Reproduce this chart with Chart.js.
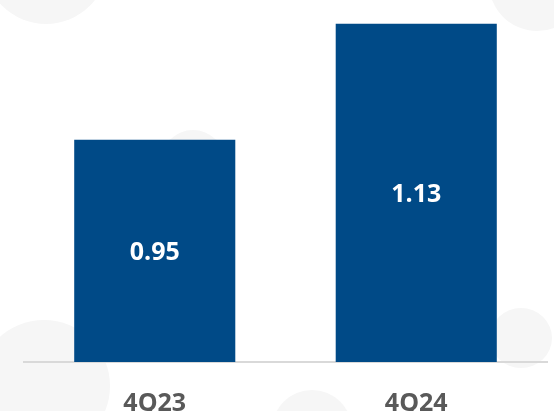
<!DOCTYPE html>
<html>
<head>
<meta charset="utf-8">
<script src="https://cdn.jsdelivr.net/npm/chart.js@4"></script>
<style>
  html, body { margin: 0; padding: 0; background: #fff; overflow: hidden; }
  #wrap { position: relative; width: 554px; height: 411px; overflow: hidden; }
  .dot { position: absolute; border-radius: 50%; background: #f6f6f6; }
  canvas { position: absolute; left: 0; top: 0; }
</style>
</head>
<body>
<div id="wrap">
  <!-- faint background circles -->
  <div class="dot" style="left:-16px;top:-100px;width:124px;height:124px"></div>
  <div class="dot" style="left:489px;top:-65px;width:96px;height:96px"></div>
  <div class="dot" style="left:161px;top:130px;width:64px;height:64px"></div>
  <div class="dot" style="left:-22px;top:320px;width:132px;height:132px"></div>
  <div class="dot" style="left:272px;top:390px;width:80px;height:80px"></div>
  <div class="dot" style="left:490px;top:308px;width:62px;height:60px"></div>
  <canvas id="myChart" width="554" height="411"></canvas>
</div>
<script>
const categories = ["4Q23", "4Q24"];
const values = [0.95, 1.13];
const valueLabels = ["0.95", "1.13"];

const barColor = "#004a87";

// 막대 가운데에 값 표시 (축이 0에서 시작하지 않으므로 차트 바닥 기준)
const centerLabels = {
  id: "centerLabels",
  afterDatasetsDraw(chart) {
    const c = chart.ctx;
    const meta = chart.getDatasetMeta(0);
    const bottom = chart.chartArea.bottom;
    c.save();
    c.fillStyle = "#ffffff";
    c.font = "bold 25px 'Open Sans'";
    c.textAlign = "center";
    c.textBaseline = "middle";
    meta.data.forEach((bar, i) => {
      c.fillText(valueLabels[i], bar.x, (bar.y + bottom) / 2 + 2);
    });
    c.restore();
  }
};

const ctx = document.getElementById("myChart").getContext("2d");
new Chart(ctx, {
  type: "bar",
  data: {
    labels: categories,
    datasets: [{
      data: values,
      backgroundColor: barColor,
      borderWidth: 0,
      barPercentage: 1,
      categoryPercentage: 0.616
    }]
  },
  options: {
    responsive: false,
    animation: false,
    layout: { padding: { left: 24, right: 7, top: 0, bottom: 0 } },
    plugins: {
      legend: { display: false },
      tooltip: { enabled: false }
    },
    scales: {
      x: {
        grid: { display: false, drawTicks: false },
        border: { display: true, color: "#d9d9d9", width: 2 },
        ticks: {
          color: "#595959",
          font: { family: "'Open Sans'", size: 25, weight: "bold" },
          padding: 27
        },
        afterFit(scale) { scale.height = 49; }
      },
      y: {
        display: false,
        min: 0.605,
        max: 1.167
      }
    }
  },
  plugins: [centerLabels]
});
</script>
</body>
</html>
